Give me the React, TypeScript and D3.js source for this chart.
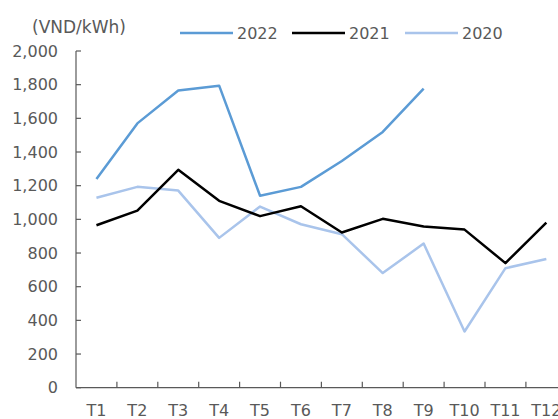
import React from "react";
import * as d3 from "d3";

const categories = ["T1","T2","T3","T4","T5","T6","T7","T8","T9","T10","T11","T12"];
const s2022: (number | null)[] = [1240, 1570, 1765, 1794, 1140, 1193, 1347, 1519, 1776, null, null, null];
const s2021: (number | null)[] = [965, 1052, 1294, 1110, 1019, 1078, 922, 1003, 957, 939, 740, 981];
const s2020: (number | null)[] = [1128, 1193, 1171, 890, 1076, 971, 912, 681, 856, 334, 710, 764];
const yTicks = [0, 200, 400, 600, 800, 1000, 1200, 1400, 1600, 1800, 2000];
const seriesNames = ["2022", "2021", "2020"];
const unitLabel = "(VND/kWh)";

const W = 558, H = 419;
const FONT = "'DejaVu Sans', Verdana, sans-serif";
const TEXT = "#595959";

export default function App() {
  const left = 76, right = 76 + 12 * 40.9;
  const x = d3.scaleBand<string>().domain(categories).range([left, right]);
  const y = d3.scaleLinear().domain([0, 2000]).range([387.7, 51]);
  const series = [
    { name: seriesNames[0], data: s2022, color: "#5B9BD5" },
    { name: seriesNames[1], data: s2021, color: "#000000" },
    { name: seriesNames[2], data: s2020, color: "#A9C4EB" },
  ];
  const line = d3.line<number | null>()
    .defined((d) => d != null)
    .x((_, i) => (x(categories[i]) as number) + x.bandwidth() / 2)
    .y((d) => y(d as number));
  const legendX = [180, 292, 405];
  return (
    <svg width={W} height={H} style={{ position: "absolute", left: 0, top: 0, background: "#fff" }} fontFamily={FONT}>
      <text x={32} y={33} fontSize={17} fill={TEXT}>{unitLabel}</text>
      {series.map((s, i) => (
        <g key={s.name}>
          <line x1={legendX[i]} x2={legendX[i] + 53} y1={33} y2={33} stroke={s.color} strokeWidth={2.5} />
          <text x={legendX[i] + 57} y={39} fontSize={16} fill={TEXT}>{s.name}</text>
        </g>
      ))}
      <line x1={left} x2={left} y1={y(2000)} y2={y(0)} stroke={TEXT} strokeWidth={1.2} />
      {yTicks.map((t) => (
        <g key={t}>
          <line x1={left} x2={left + 5} y1={y(t)} y2={y(t)} stroke={TEXT} strokeWidth={1.2} />
          <text x={58} y={y(t)} dy="0.35em" textAnchor="end" fontSize={16} fill={TEXT}>{d3.format(",")(t)}</text>
        </g>
      ))}
      <line x1={left} x2={right} y1={y(0)} y2={y(0)} stroke={TEXT} strokeWidth={1.2} />
      {categories.map((c, i) => (
        <g key={c}>
          <line x1={(x(c) as number) + x.bandwidth()} x2={(x(c) as number) + x.bandwidth()} y1={y(0)} y2={y(0) - 6} stroke={TEXT} strokeWidth={1.2} />
          <text x={(x(c) as number) + x.bandwidth() / 2} y={416} textAnchor="middle" fontSize={16} fill={TEXT}>{c}</text>
        </g>
      ))}
      {series.slice().reverse().map((s) => (
        <path key={s.name} d={line(s.data) || ""} fill="none" stroke={s.color} strokeWidth={2.5} strokeLinejoin="round" />
      ))}
    </svg>
  );
}
